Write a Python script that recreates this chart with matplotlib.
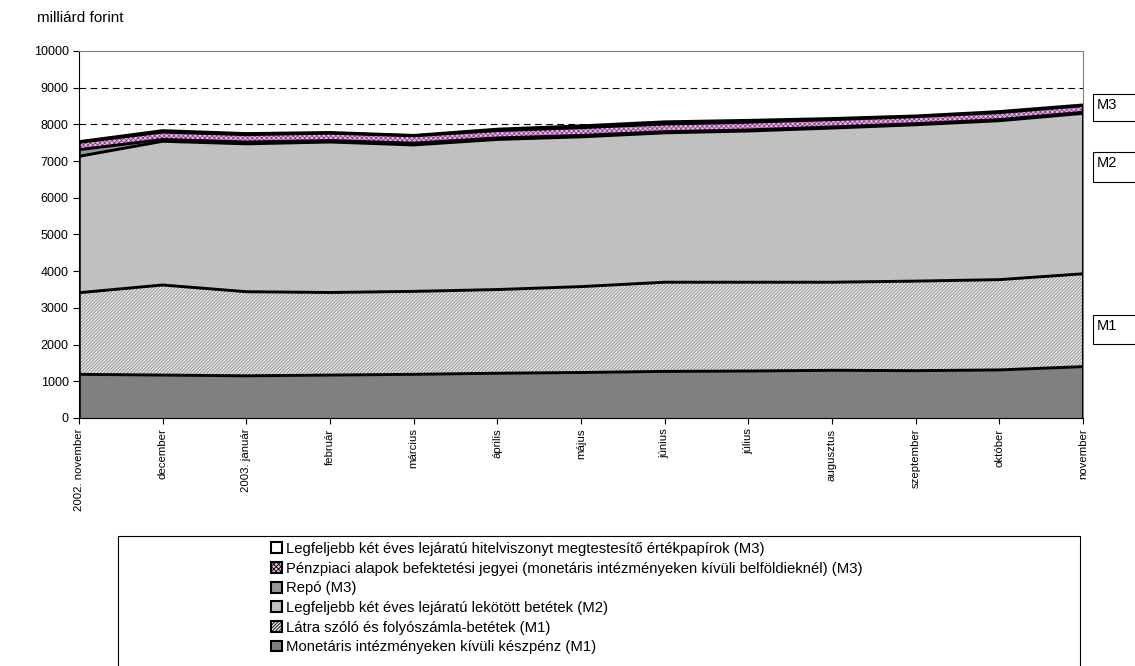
import numpy as np
import matplotlib
matplotlib.use('Agg')
import matplotlib.pyplot as plt
from matplotlib.patches import Rectangle, Patch

plt.rcParams['font.family'] = ['Liberation Sans', 'DejaVu Sans']
plt.rcParams['hatch.linewidth'] = 0.6

MONTHS = ['2002. november', 'december', '2003. január', 'február', 'március',
          'április', 'május', 'június', 'július', 'augusztus', 'szeptember',
          'október', 'november']

# milliárd forint
cash      = [1190, 1170, 1150, 1170, 1190, 1220, 1240, 1270, 1280, 1300, 1290, 1310, 1400]
sight     = [2224, 2454, 2291, 2250, 2260, 2280, 2340, 2430, 2420, 2400, 2440, 2460, 2530]
time_dep  = [3716, 3916, 4029, 4100, 3990, 4090, 4080, 4070, 4120, 4200, 4260, 4330, 4370]
repo      = [180, 50, 50, 40, 50, 40, 40, 30, 30, 30, 30, 30, 30]
mmf       = [200, 200, 200, 200, 200, 200, 210, 210, 210, 200, 190, 190, 180]
debt_sec  = [20, 40, 30, 20, 10, 40, 50, 60, 50, 30, 20, 30, 20]

LAYERS = [
    (cash,     'Monetáris intézményeken kívüli készpénz (M1)', '#808080', None, None),
    (sight,    'Látra szóló és folyószámla-betétek (M1)', '#e4e4e4', '//////////', '#8c8c8c'),
    (time_dep, 'Legfeljebb két éves lejáratú lekötött betétek (M2)', '#c0c0c0', None, None),
    (repo,     'Repó (M3)', '#969696', None, None),
    (mmf,      'Pénzpiaci alapok befektetési jegyei (monetáris intézményeken kívüli belföldieknél) (M3)',
     '#e0c0e0', 'xxxxxxx', '#993399'),
    (debt_sec, 'Legfeljebb két éves lejáratú hitelviszonyt megtestesítő értékpapírok (M3)', 'white', None, None),
]

fig = plt.figure(figsize=(11.35, 6.66), dpi=100)
ax = fig.add_axes([79 / 1135, 1 - 418 / 666, (1083 - 79) / 1135, (418 - 51) / 666])

x = np.arange(len(MONTHS))
base = np.zeros(len(MONTHS))
handles = []
for vals, label, fc, hatch, hc in LAYERS:
    top = base + np.array(vals)
    if hatch:
        ax.fill_between(x, base, top, facecolor=fc, edgecolor=hc, hatch=hatch,
                        linewidth=0, zorder=2)
    else:
        ax.fill_between(x, base, top, facecolor=fc, linewidth=0, zorder=2)
    ax.plot(x, top, color='black', lw=2.1, zorder=3, solid_capstyle='butt')
    handles.append(Patch(facecolor=fc, edgecolor='black', hatch=hatch, lw=1.5, label=label))
    base = top

ax.vlines(x[-1], 0, base[-1], color='black', lw=2.2, zorder=3)
ax.vlines(x[0], 0, base[0], color='black', lw=1.8, zorder=3)

ax.set_xlim(0, len(MONTHS) - 1)
ax.set_ylim(0, 10000)
ax.set_yticks(range(0, 10001, 1000))
ax.set_xticks(x)
ax.set_xticklabels(MONTHS, rotation=90, fontsize=8.2)
ax.tick_params(axis='y', labelsize=9, length=4, direction='out')
ax.tick_params(axis='x', length=4, direction='out')
for g in range(1000, 10000, 1000):
    ax.axhline(g, color='black', lw=0.8, dashes=(6, 4), zorder=1)
ax.spines['top'].set_color('#808080')
ax.spines['right'].set_color('#808080')

fig.text(37 / 1135, 1 - 18 / 666, 'milliárd forint', fontsize=11, va='center', ha='left')

# legend box
fig.patches.append(Rectangle((118 / 1135, -0.05), (1080 - 118) / 1135, 0.05 + 1 - 536 / 666,
                             transform=fig.transFigure, facecolor='white',
                             edgecolor='black', lw=0.8))
leg = fig.legend(handles=handles[::-1], loc='upper left',
                 bbox_to_anchor=(271 / 1135, 1 - 542 / 666), frameon=False,
                 fontsize=10.7, handlelength=0.75, handleheight=0.75,
                 handletextpad=0.25, labelspacing=0.38, borderpad=0,
                 borderaxespad=0)

# M1/M2/M3 boxes
for name, ytop, ybot in [('M3', 94, 121), ('M2', 152, 182), ('M1', 315, 344)]:
    fig.patches.append(Rectangle((1093 / 1135, 1 - ybot / 666), 0.1, (ybot - ytop) / 666,
                                 transform=fig.transFigure, facecolor='white',
                                 edgecolor='black', lw=0.8))
    fig.text(1097 / 1135, 1 - (ytop + 11) / 666, name, fontsize=10.5, va='center', ha='left')

fig.savefig('out.png', dpi=100)
